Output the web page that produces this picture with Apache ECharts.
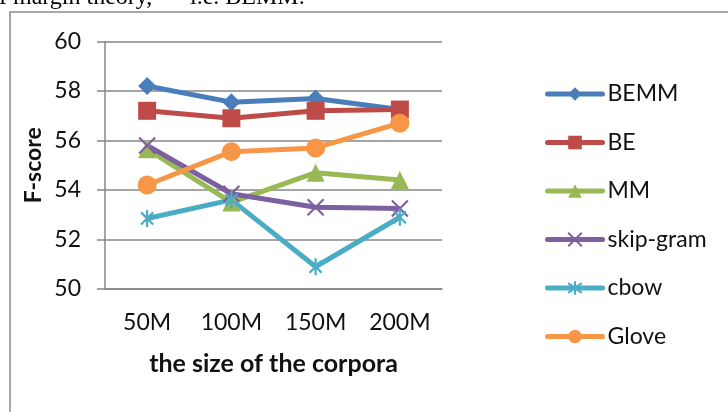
<!DOCTYPE html>
<html>
<head>
<meta charset="utf-8">
<script src="https://cdn.jsdelivr.net/npm/echarts@6/dist/echarts.min.js"></script>
<style>
  html, body { margin: 0; padding: 0; background: #ffffff; }
  #chart { width: 728px; height: 412px; }
</style>
</head>
<body>
<div id="chart"></div>
<script>
// Corpus sizes on the x axis
const categories = ['50M', '100M', '150M', '200M'];

// F-score of each method per corpus size
const bemm     = [58.2, 57.55, 57.7, 57.25];
const be       = [57.2, 56.9, 57.2, 57.25];
const mm       = [55.65, 53.5, 54.7, 54.4];
const skipGram = [55.8, 53.85, 53.3, 53.25];
const cbow     = [52.85, 53.6, 50.9, 52.9];
const glove    = [54.2, 55.55, 55.7, 56.7];

// Y axis range
const yTicks = [50, 52, 54, 56, 58, 60];

const FONT = 'Lato, "Open Sans", sans-serif';
const SERIF = '24px "Liberation Serif", serif';
const GRID_GREY = '#878787';
const TEXT = '#111111';

const xMark = 'path://M0,0L10,10M10,0L0,10';
const starMark = 'path://M1,1L9,9M9,1L1,9M5,-0.6L5,10.6';

function lineSeries(name, data, color, symbol, size, stroked) {
  return {
    name: name,
    type: 'line',
    data: data,
    symbol: symbol,
    symbolSize: size,
    symbolKeepAspect: true,
    showAllSymbol: true,
    lineStyle: { color: color, width: 5 },
    itemStyle: stroked
      ? { color: 'rgba(0,0,0,0)', borderColor: color, borderWidth: 2.2 }
      : { color: color, borderWidth: 0 },
    emphasis: { disabled: true },
    z: 2
  };
}

const chart = echarts.init(document.getElementById('chart'), null, { renderer: 'canvas' });

chart.setOption({
  animation: false,
  backgroundColor: '#ffffff',
  graphic: [
    {
      type: 'rect',
      shape: { x: 10, y: 12, width: 740, height: 420 },
      style: { fill: 'none', stroke: '#8c8c8c', lineWidth: 1.5 },
      silent: true
    },
    {
      type: 'text',
      left: -1,
      top: -14,
      style: { text: 'f margin theory,', font: SERIF, fill: '#000000' },
      silent: true
    },
    {
      type: 'text',
      left: 190,
      top: -14,
      style: { text: 'i.e. BEMM.', font: SERIF, fill: '#000000' },
      silent: true
    }
  ],
  grid: { left: 105, right: 286, top: 41.5, bottom: 123, containLabel: false },
  legend: {
    orient: 'vertical',
    left: 540,
    top: 77,
    itemWidth: 55,
    itemHeight: 17,
    itemGap: 24.5,
    lineStyle: { width: 5, cap: 'round' },
    textStyle: { fontFamily: FONT, fontSize: 23, color: TEXT, lineHeight: 24 },
    data: ['BEMM', 'BE', 'MM', 'skip-gram', 'cbow', 'Glove']
  },
  xAxis: {
    type: 'category',
    data: categories,
    boundaryGap: true,
    name: 'the size of the corpora',
    nameLocation: 'middle',
    nameGap: 62,
    nameTextStyle: { fontFamily: FONT, fontSize: 25, fontWeight: 'bold', color: TEXT },
    axisLine: { lineStyle: { color: GRID_GREY, width: 1.5 } },
    axisTick: { show: false },
    axisLabel: { fontFamily: FONT, fontSize: 23, color: TEXT, margin: 22 }
  },
  yAxis: {
    type: 'value',
    min: yTicks[0],
    max: yTicks[yTicks.length - 1],
    interval: 2,
    name: 'F-score',
    nameLocation: 'middle',
    nameGap: 60,
    nameRotate: 90,
    nameTextStyle: { fontFamily: FONT, fontSize: 23, fontWeight: 'bold', color: TEXT },
    axisLine: { show: true, lineStyle: { color: GRID_GREY, width: 1.5 } },
    axisTick: { show: true, length: 8, lineStyle: { color: GRID_GREY, width: 1.5 } },
    splitLine: { show: true, lineStyle: { color: GRID_GREY, width: 1.5 } },
    axisLabel: { fontFamily: FONT, fontSize: 23, color: TEXT, margin: 24 }
  },
  series: [
    lineSeries('BEMM', bemm, '#4a7ebb', 'diamond', 18, false),
    lineSeries('BE', be, '#be4b48', 'rect', 18, false),
    lineSeries('MM', mm, '#98b954', 'triangle', 18, false),
    lineSeries('skip-gram', skipGram, '#7d60a0', xMark, 16, true),
    lineSeries('cbow', cbow, '#4aacc5', starMark, 17, true),
    lineSeries('Glove', glove, '#f79646', 'circle', 19, false)
  ]
});
</script>
</body>
</html>
